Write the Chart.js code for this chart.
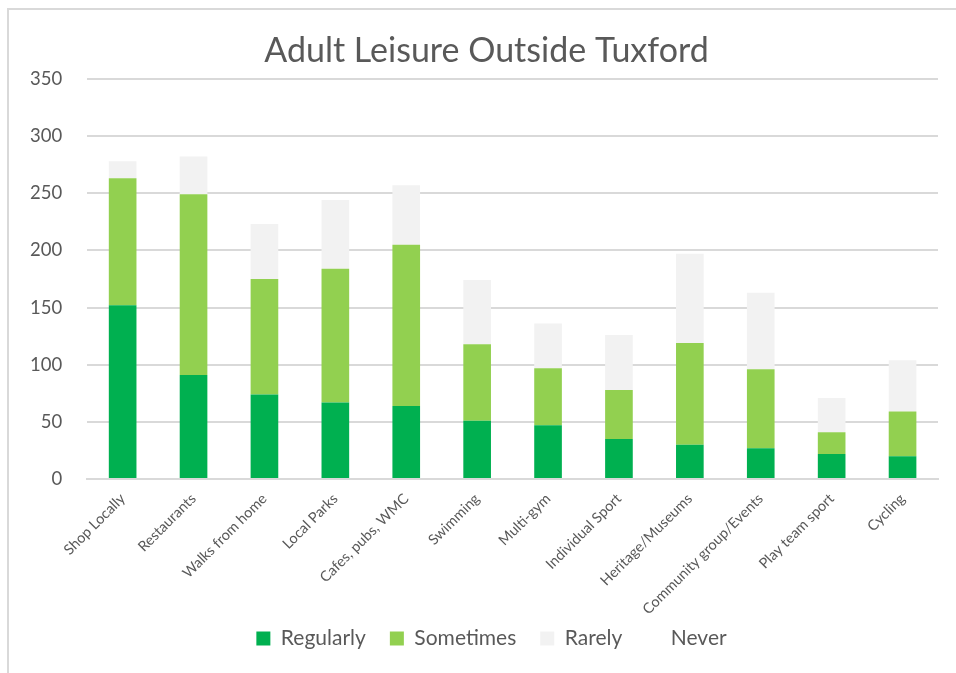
<!DOCTYPE html>
<html>
<head>
<meta charset="utf-8">
<script src="https://cdn.jsdelivr.net/npm/chart.js@4"></script>
<style>
  body { margin: 0; background: #fff; }
  #wrap { position: absolute; left: 0; top: 0; width: 956px; height: 673px; }
  #frame { position: absolute; left: 7px; top: 8px; width: 1000px; height: 700px;
           border-left: 2px solid #d9d9d9; border-top: 2px solid #d9d9d9; pointer-events: none; }
</style>
</head>
<body>
<div id="wrap"><canvas id="myChart" width="956" height="673"></canvas></div>
<div id="frame"></div>
<script>
const categories = ['Shop Locally', 'Restaurants', 'Walks from home', 'Local Parks', 'Cafes, pubs, WMC',
    'Swimming', 'Multi-gym', 'Individual Sport', 'Heritage/Museums', 'Community group/Events',
    'Play team sport', 'Cycling'];
const regularly = [152, 91, 74, 67, 64, 51, 47, 35, 30, 27, 22, 20];
const sometimes = [111, 158, 101, 117, 141, 67, 50, 43, 89, 69, 19, 39];
const rarely    = [15, 33, 48, 60, 52, 56, 39, 48, 78, 67, 30, 45];
const never     = [0, 0, 0, 0, 0, 0, 0, 0, 0, 0, 0, 0];

const textColor = '#595959';
const fontFamily = 'Lato, "Open Sans", sans-serif';

function series(label, data, color) {
    return {
        label: label,
        data: data,
        backgroundColor: color,
        borderWidth: 0,
        barPercentage: 0.78,
        categoryPercentage: 0.5
    };
}

// nudge title and legend a little right, the way Excel centres them
const shiftBlocks = {
    id: 'shiftBlocks',
    afterLayout(chart) {
        chart.titleBlock.left += 15;
        chart.titleBlock.right += 15;
        chart.legend.left += 20;
        chart.legend.right += 20;
    }
};

const ctx = document.getElementById('myChart').getContext('2d');
const chart = new Chart(ctx, {
    type: 'bar',
    data: {
        labels: categories,
        datasets: [
            series('Regularly', regularly, '#00b050'),
            series('Sometimes', sometimes, '#92d050'),
            series('Rarely', rarely, '#f2f2f2'),
            series('Never', never, '#ffffff')
        ]
    },
    plugins: [shiftBlocks],
    options: {
        responsive: false,
        animation: { duration: 0 },
        layout: { padding: { left: 5, right: 18, top: 20, bottom: 14 } },
        scales: {
            x: {
                stacked: true,
                grid: { display: false },
                border: { color: '#d9d9d9', width: 2 },
                ticks: {
                    color: textColor,
                    font: { family: fontFamily, size: 14.5 },
                    minRotation: 45,
                    maxRotation: 45,
                    autoSkip: false
                },
                // let the slanted labels run into the empty space above the legend
                afterFit: (scale) => {
                    scale.height -= 17;
                    scale._computeLabelArea = function() {
                        return { top: this.top, left: 0, bottom: this.chart.height, right: this.chart.width };
                    };
                }
            },
            y: {
                stacked: true,
                min: 0,
                max: 350,
                border: { display: false },
                grid: { color: '#d9d9d9', lineWidth: 2, drawTicks: false },
                ticks: {
                    stepSize: 50,
                    color: textColor,
                    padding: 25,
                    font: { family: fontFamily, size: 18.5 }
                }
            }
        },
        plugins: {
            title: {
                display: true,
                text: 'Adult Leisure Outside Tuxford',
                color: textColor,
                font: { family: fontFamily, size: 34, weight: 'normal' },
                padding: { top: 11, bottom: 7 }
            },
            legend: {
                position: 'bottom',
                labels: {
                    color: textColor,
                    font: { family: fontFamily, size: 21 },
                    boxWidth: 14,
                    boxHeight: 14,
                    padding: 24
                }
            },
            tooltip: { enabled: false }
        }
    }
});
</script>
</body>
</html>
